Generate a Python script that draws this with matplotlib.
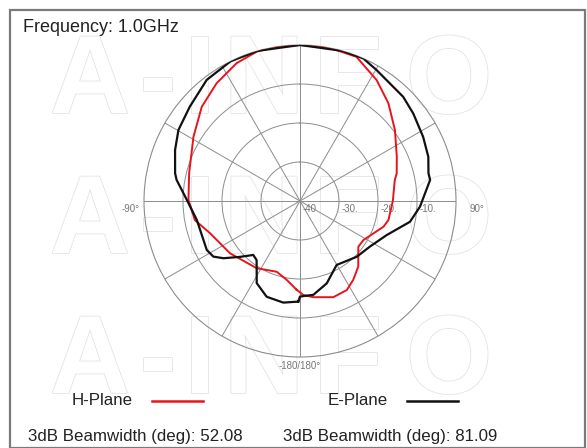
import matplotlib

matplotlib.use("Agg")
import matplotlib.pyplot as plt
import matplotlib.patheffects as pe
import numpy as np
from matplotlib.patches import Rectangle

W, H = 587, 448

# H-Plane (red) pattern: angle in degrees, gain in dB
H_ANGLES = [-177.9, -170.4, -161.8, -147.2, -126.8, -109.7, -100.3, -89.5,
            -76.0, -58.9, -46.2, -35.3, -24.7, -16.0, -8.5, 0.0, 10.9, 21.4,
            32.4, 42.1, 53.2, 65.4, 74.0, 77.5, 90.0, 102.1, 107.1, 121.6,
            128.1, 138.4, 146.0, 152.3, 160.9, 172.1, 178.0]
H_DB = [-17.2, -19.5, -20.9, -19.5, -17.6, -15.5, -12.6, -11.4,
        -10.7, -8.1, -5.1, -3.0, -1.1, -0.1, 0.0, 0.0, 0.0, -0.3,
        -3.3, -6.2, -9.6, -12.7, -14.2, -15.1, -16.2, -16.8, -17.6, -20.9,
        -21.0, -17.5, -15.6, -14.2, -13.9, -15.1, -15.9]

# E-Plane (black) pattern
E_ANGLES = [-179.0, -170.7, -160.8, -152.2, -147.9, -143.7, -139.1, -133.0,
            -126.8, -122.7, -117.7, -100.4, -89.5, -80.3, -77.5, -67.8,
            -59.7, -49.4, -37.6, -26.4, -15.8, 0.0, 15.8, 23.9, 30.3, 39.2,
            44.7, 52.3, 62.5, 71.0, 77.8, 80.8, 92.7, 100.7, 111.4, 123.1,
            134.5, 150.2, 162.0, 171.9, 180.0]
E_DB = [-14.2, -13.6, -14.0, -16.2, -19.1, -21.2, -21.7, -19.0,
        -15.5, -13.6, -13.0, -13.1, -11.0, -7.9, -7.2, -5.4,
        -3.9, -2.8, -0.8, 0.0, 0.0, 0.0, 0.0, 0.0, -1.1, -2.2,
        -2.4, -3.3, -4.4, -5.2, -6.3, -6.2, -9.2, -11.3, -16.1, -18.6,
        -19.6, -21.1, -17.8, -15.7, -15.5]

RING_LABELS = ["-40", "-30.", "-20.", "-10."]
RING_VALUES = [-40, -30, -20, -10]

TITLE = "Frequency: 1.0GHz"
H_BEAMWIDTH = 52.08
E_BEAMWIDTH = 81.09

WATERMARK = ["A", "-", "I", "N", "F", "O"]
WATERMARK_X = [90, 158, 200, 264, 348, 449]
WATERMARK_Y = [84, 224, 364]

RED = "#e8141c"
BLACK = "#111111"
GRID = "#8c8c8c"
TEXT = "#222222"


def fx(x):
    return x / W


def fy(y):
    return 1 - y / H


plt.rcParams["font.family"] = ["Liberation Sans", "DejaVu Sans"]
fig = plt.figure(figsize=(W / 100, H / 100), dpi=100, facecolor="white")

# watermark: hollow letters (white fill over a light grey stroke)
for yc in WATERMARK_Y:
    for ch, xc in zip(WATERMARK, WATERMARK_X):
        fig.text(fx(xc), fy(yc), ch, fontsize=80, fontweight="bold",
                 ha="center", va="center", color="white", zorder=-5,
                 path_effects=[pe.withStroke(linewidth=1.2,
                                             foreground="#e4e4e4")])

# frame
fig.patches.append(Rectangle((fx(10), 0), fx(585) - fx(10), fy(10),
                             transform=fig.transFigure, fill=False,
                             edgecolor="#7a7a7a", linewidth=1.6, zorder=1))

# polar axes: centre (300, 201), radius 156 px
cx, cy, R = 300, 201, 156
ax = fig.add_axes([fx(cx - R), fy(cy + R), 2 * R / W, 2 * R / H],
                  projection="polar")
ax.set_zorder(3)
ax.patch.set_alpha(0)
ax.set_theta_zero_location("N")
ax.set_theta_direction(-1)
ax.set_ylim(-40, 0)
ax.set_xticks(np.deg2rad(np.arange(0, 360, 30)))
ax.set_xticklabels([])
ax.set_yticks([-30, -20, -10])
ax.set_yticklabels([])
ax.grid(True, color=GRID, linewidth=0.7)
ax.spines["polar"].set_color(GRID)
ax.spines["polar"].set_linewidth(0.8)

h_th = np.deg2rad(H_ANGLES + H_ANGLES[:1])
ax.plot(h_th, H_DB + H_DB[:1], color=RED, linewidth=1.4, zorder=4)
e_th = np.deg2rad(E_ANGLES + E_ANGLES[:1])
ax.plot(e_th, E_DB + E_DB[:1], color=BLACK, linewidth=1.6, zorder=5)

for lab, val in zip(RING_LABELS, RING_VALUES):
    ax.annotate(lab, xy=(np.pi / 2, val), xytext=(2, -2.5),
                textcoords="offset points", ha="left", va="top",
                fontsize=7, color="#777777")

fig.text(fx(140), fy(209), "-90°", fontsize=7, color="#777777",
         ha="right", va="center")
fig.text(fx(470), fy(209), "90°", fontsize=7, color="#777777",
         ha="left", va="center")
fig.text(fx(300), fy(366), "-180/180°", fontsize=7, color="#777777",
         ha="center", va="center")

fig.text(fx(23), fy(28), TITLE, fontsize=13, color=TEXT, ha="left",
         va="center")

# legend block
fig.text(fx(72), fy(400), "H-Plane", fontsize=12.2, color=TEXT,
         ha="left", va="center")
fig.add_artist(plt.Line2D([fx(152), fx(203)], [fy(401), fy(401)],
                          color=RED, linewidth=1.8))
fig.text(fx(328), fy(400), "E-Plane", fontsize=12.2, color=TEXT,
         ha="left", va="center")
fig.add_artist(plt.Line2D([fx(407), fx(458)], [fy(401), fy(401)],
                          color=BLACK, linewidth=1.8))
fig.text(fx(28), fy(436), f"3dB Beamwidth (deg): {H_BEAMWIDTH:.2f}",
         fontsize=12.2, color=TEXT, ha="left", va="center")
fig.text(fx(283), fy(436), f"3dB Beamwidth (deg): {E_BEAMWIDTH:.2f}",
         fontsize=12.2, color=TEXT, ha="left", va="center")

fig.savefig("out.png", dpi=100, facecolor="white")
